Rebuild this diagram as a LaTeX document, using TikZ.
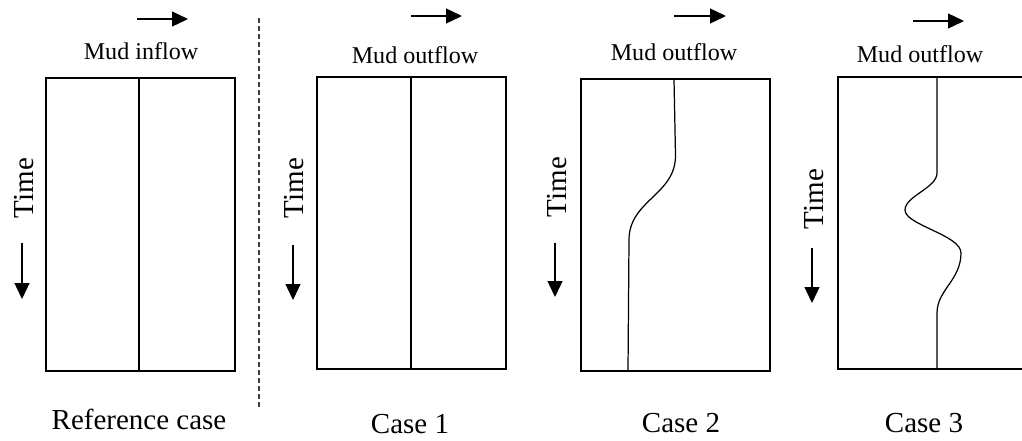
\documentclass[tikz,border=0pt]{standalone}
\usepackage{fontspec}
\setmainfont{Liberation Serif}
\usetikzlibrary{arrows.meta}

\begin{document}
\begin{tikzpicture}[x=0.02cm,y=-0.02cm,
  panel/.style={line width=0.7pt},
  trace/.style={line width=0.7pt},
  flowarrow/.style={line width=0.75pt,-{Triangle[length=0.32cm,width=0.3cm]}},
  divider/.style={black!75,line width=0.6pt,dash pattern=on 0.1cm off 0.06cm},
  flowlabel/.style={anchor=base,inner sep=0pt,font=\fontsize{13.7}{16}\selectfont},
  timelabel/.style={anchor=base,rotate=90,inner sep=0pt,font=\fontsize{16.5}{20}\selectfont},
  caselabel/.style={anchor=base,inner sep=0pt,font=\fontsize{16.5}{20}\selectfont}]
\useasboundingbox (0,0) rectangle (1022,440);

% Reference case
\draw[panel] (46,78) rectangle (235,371);
\draw[trace] (139,78) -- (139,371);
\coordinate (inA) at (137,19);
\coordinate (inB) at (188,19);
\draw[flowarrow] (inA) -- (inB);
\node[flowlabel] (inflow) at (141,59) {Mud inflow};
\node[timelabel] (timeRef) at (33,188) {Time};
\coordinate (tRefA) at (22,243);
\coordinate (tRefB) at (22,299);
\draw[flowarrow] (tRefA) -- (tRefB);
\node[caselabel] (caseRef) at (139,429) {Reference case};

% Dashed separator
\coordinate (sepA) at (259,18);
\coordinate (sepB) at (259,407);
\draw[divider] (sepA) -- (sepB);

% Case 1
\draw[panel] (317,77) rectangle (506,369);
\draw[trace] (411,77) -- (411,369);
\coordinate (outOneA) at (411,16);
\coordinate (outOneB) at (462,16);
\draw[flowarrow] (outOneA) -- (outOneB);
\node[flowlabel] (outflowOne) at (415,63) {Mud outflow};
\node[timelabel] (timeOne) at (303,188) {Time};
\coordinate (tOneA) at (293,245);
\coordinate (tOneB) at (293,300);
\draw[flowarrow] (tOneA) -- (tOneB);
\node[caselabel] (caseOne) at (410,433) {Case 1};

% Case 2
\draw[panel] (581,79) rectangle (770,371);
\draw[trace] (674,79) -- (675.5,155) .. controls (676,195) and (629,200) .. (629,240) -- (628,371);
\coordinate (outTwoA) at (674,16);
\coordinate (outTwoB) at (726,16);
\draw[flowarrow] (outTwoA) -- (outTwoB);
\node[flowlabel] (outflowTwo) at (674,60) {Mud outflow};
\node[timelabel] (timeTwo) at (566,187) {Time};
\coordinate (tTwoA) at (555,243);
\coordinate (tTwoB) at (555,297);
\draw[flowarrow] (tTwoA) -- (tTwoB);
\node[caselabel] (caseTwo) at (681,432) {Case 2};

% Case 3
\draw[panel] (838,77) rectangle (1027,369);
\draw[trace] (937,77) -- (937,173) .. controls (937,188) and (905,196) .. (905,210)
  .. controls (905,225) and (961,235) .. (961,253)
  .. controls (961,280) and (937,290) .. (937,313) -- (937,369);
\coordinate (outThreeA) at (913,21);
\coordinate (outThreeB) at (964,21);
\draw[flowarrow] (outThreeA) -- (outThreeB);
\node[flowlabel] (outflowThree) at (920,62) {Mud outflow};
\node[timelabel] (timeThree) at (823,199) {Time};
\coordinate (tThreeA) at (812,248);
\coordinate (tThreeB) at (812,303);
\draw[flowarrow] (tThreeA) -- (tThreeB);
\node[caselabel] (caseThree) at (924,432) {Case 3};
\end{tikzpicture}
\end{document}
